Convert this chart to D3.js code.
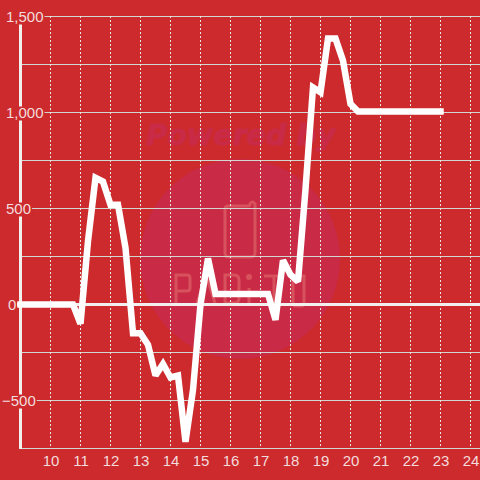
<!DOCTYPE html>
<html>
<head>
<meta charset="utf-8">
<script src="https://d3js.org/d3.v7.min.js"></script>
<style>
html, body { margin: 0; padding: 0; background: #cc2a2d; }
svg { display: block; font-family: "Liberation Sans", Arial, sans-serif; }
</style>
</head>
<body>
<script>
// values, one point every quarter hour
var hours = [9, 9.25, 9.5, 9.75, 10, 10.25, 10.5, 10.75, 11, 11.25, 11.5, 11.75,
             12, 12.25, 12.5, 12.75, 13, 13.25, 13.5, 13.75, 14, 14.25, 14.5, 14.75,
             15, 15.25, 15.5, 15.75, 16, 16.25, 16.5, 16.75, 17, 17.25, 17.5, 17.75,
             18, 18.25, 18.5, 18.75, 19, 19.25, 19.5, 19.75, 20, 20.25, 20.5, 20.75,
             21, 21.25, 21.5, 21.75, 22, 22.25, 22.5, 22.75, 23];
var values = [0, 0, 0, 0, 0, 0, 0, 0, -100, 330, 660, 640,
              520, 520, 295, -150, -150, -210, -370, -310, -380, -370, -715, -445,
              0, 240, 55, 55, 55, 55, 55, 55, 55, 55, -80, 230,
              155, 120, 600, 1130, 1105, 1385, 1385, 1270, 1045, 1005, 1005, 1005,
              1005, 1005, 1005, 1005, 1005, 1005, 1005, 1005, 1005];
var xTicks = [10, 11, 12, 13, 14, 15, 16, 17, 18, 19, 20, 21, 22, 23, 24];
var yGrid = [1500, 1250, 1000, 750, 500, 250, -250, -500, -750];
var yLabels = [1500, 1000, 500, 0, -500];

var svg = d3.select("body").append("svg")
  .attr("width", 480)
  .attr("height", 480);

var x = d3.scaleLinear().domain([9, 25]).range([20.5, 500.5]);
var y = d3.scaleLinear().domain([-750, 1500]).range([448.5, 16.5]);

// watermark behind the chart
var mark = svg.append("g");
mark.append("circle").attr("cx", 240).attr("cy", 259).attr("r", 100).attr("fill", "#c92a45");
mark.append("text").attr("x", 241).attr("y", 145)
  .attr("text-anchor", "middle")
  .attr("font-family", "DejaVu Sans")
  .attr("font-weight", "bold").attr("font-style", "italic")
  .attr("font-size", 28.5).attr("fill", "#c92a45")
  .attr("stroke", "#c92a45").attr("stroke-width", 1)
  .text("Powered by");
// logo outline and its stencil lettering
var logoPaths = [
  "M228 206H248Q250 206 250 204Q252 200 255 204V253Q255 257 250 257H229Q225 257 225 253V209Q225 206 228 206Z",
  "M176 303V275H187Q190 275 190 278V288Q190 291 187 291H176",
  "M197 303L206 275L215 303",
  "M225 303V275H234Q239 275 239 280V298Q239 303 234 303Z",
  "M249 288V303",
  "M264 276H284M274 276V303",
  "M293 276H304V303Q304 306 301 306H296Q293 306 293 303Z"
];
mark.selectAll("path").data(logoPaths).join("path")
  .attr("d", function(d) { return d; })
  .attr("fill", "none").attr("stroke", "#d8525e").attr("stroke-width", 3);
mark.append("circle").attr("cx", 249).attr("cy", 277).attr("r", 3).attr("fill", "#d8525e");

// horizontal grid
svg.append("g").selectAll("line").data(yGrid).join("line")
  .attr("x1", 20).attr("x2", 480)
  .attr("y1", function(d) { return y(d); })
  .attr("y2", function(d) { return y(d); })
  .attr("stroke", "#d2d6d0").attr("stroke-width", 1);

// vertical grid, dotted
svg.append("g").selectAll("line").data(xTicks).join("line")
  .attr("x1", function(d) { return x(d); })
  .attr("x2", function(d) { return x(d); })
  .attr("y1", 16).attr("y2", 448)
  .attr("stroke", "#e6e8e2").attr("stroke-width", 1)
  .attr("stroke-dasharray", "2,2");

// axis lines
svg.append("line").attr("x1", 20.5).attr("x2", 20.5).attr("y1", 16).attr("y2", 449)
  .attr("stroke", "#f2f0ee").attr("stroke-width", 3);
svg.append("line").attr("x1", 17).attr("x2", 480).attr("y1", y(0)).attr("y2", y(0))
  .attr("stroke", "#f2f0ee").attr("stroke-width", 3);

// y labels sit on a red box that cuts the axis and the grid
var yLab = svg.append("g").selectAll("g").data(yLabels).join("g")
  .attr("transform", function(d) { return "translate(0," + y(d) + ")"; });
yLab.append("text")
  .attr("x", function(d) { return d < 0 ? 2 : d === 0 ? 8 : 6; })
  .attr("dy", 5.5).attr("font-size", 15).attr("fill", "#f3dcdc")
  .text(function(d) { return d === 0 ? "0" : d3.format(",")(d); })
  .each(function(d) {
    var b = this.getBBox();
    if (d !== 0) {
      d3.select(this.parentNode).insert("rect", "text")
        .attr("x", b.x - 2).attr("y", -6)
        .attr("width", b.width + 3).attr("height", 14)
        .attr("fill", "#cc2a2d");
    }
  });

// x labels
svg.append("g").selectAll("text").data(xTicks).join("text")
  .attr("x", function(d) { return x(d) + 0.5; })
  .attr("y", 466)
  .attr("text-anchor", "middle")
  .attr("font-size", 15).attr("fill", "#f3dcdc")
  .text(function(d) { return d; });

// series
var line = d3.line()
  .x(function(d, i) { return x(hours[i]); })
  .y(function(d) { return y(d); });

svg.append("path")
  .datum(values)
  .attr("d", line)
  .attr("fill", "none")
  .attr("stroke", "#ffffff")
  .attr("stroke-width", 6.5)
  .attr("stroke-linejoin", "miter")
  .attr("stroke-miterlimit", 2)
  .attr("stroke-linecap", "square");
</script>
</body>
</html>
